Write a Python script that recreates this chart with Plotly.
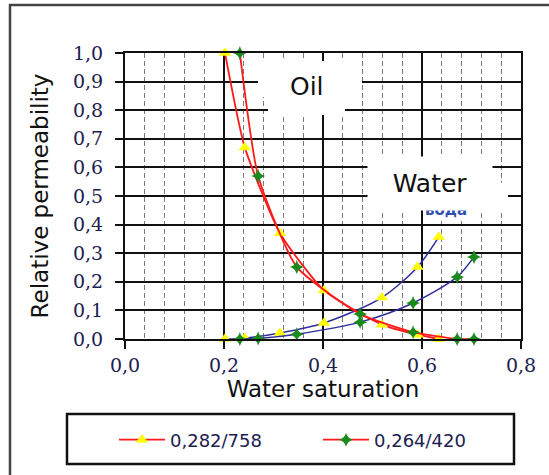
import plotly.graph_objects as go

# Water saturation of the measured points for the two samples
sw_a = [0.202, 0.242, 0.313, 0.402, 0.519, 0.591, 0.634]
sw_b = [0.232, 0.269, 0.347, 0.475, 0.582, 0.671, 0.705]

# Relative permeability to oil
kro_a = [1.0, 0.67, 0.37, 0.17, 0.05, 0.015, 0.0]
kro_b = [1.0, 0.57, 0.252, 0.087, 0.024, 0.0, 0.0]

# Relative permeability to water
krw_a = [0.0, 0.003, 0.021, 0.056, 0.145, 0.252, 0.357]
krw_b = [0.0, 0.002, 0.017, 0.059, 0.126, 0.217, 0.287]

names = ["0,282/758", "0,264/420"]
x_ticks = [0.0, 0.2, 0.4, 0.6, 0.8]
y_ticks = [round(0.1 * i, 1) for i in range(11)]

W, H = 549, 475
L, R, T, B = 125, 28, 53, 136
PW, PH = W - L - R, H - T - B


def px(x):
    return (x - L) / PW


def py(y):
    return (H - B - y) / PH


RED = "#ff1a1a"
BLUE = "#2e2e9c"
YEL = "#ffff00"
GRN = "#1a8a1a"
TXT = "#1c2050"

fig = go.Figure()

series = [
    (sw_a, kro_a, krw_a, names[0], dict(symbol="triangle-up", size=11, color=YEL)),
    (sw_b, kro_b, krw_b, names[1], dict(symbol="star-diamond", size=10, color=GRN)),
]

for sw, kro, krw, name, mk in series:
    fig.add_trace(go.Scatter(
        x=sw, y=krw, mode="lines+markers", showlegend=False,
        line=dict(color=BLUE, width=1.5, shape="spline", smoothing=0.8),
        marker=mk, cliponaxis=False,
    ))
for sw, kro, krw, name, mk in series:
    fig.add_trace(go.Scatter(
        x=sw, y=kro, mode="lines+markers", name=name,
        line=dict(color=RED, width=1.8, shape="spline", smoothing=0.55),
        marker=mk, cliponaxis=False,
    ))

shapes = [
    # outer frame
    dict(type="rect", xref="paper", yref="paper", x0=px(10), x1=px(600),
         y0=py(5), y1=py(520), line=dict(color="#444444", width=2.5),
         fillcolor="rgba(0,0,0,0)", layer="below"),
    # legend frame
    dict(type="rect", xref="paper", yref="paper", x0=px(67), x1=px(514),
         y0=py(414), y1=py(464), line=dict(color="#111111", width=2.5),
         fillcolor="white"),
    # label backgrounds inside the plot
    dict(type="rect", xref="paper", yref="paper", x0=px(258), x1=px(362),
         y0=py(61), y1=py(97), line=dict(width=0), fillcolor="white", layer="above"),
    dict(type="rect", xref="paper", yref="paper", x0=px(268), x1=px(345),
         y0=py(96), y1=py(115), line=dict(width=0), fillcolor="white", layer="above"),
    dict(type="rect", xref="paper", yref="paper", x0=px(490), x1=px(508),
         y0=py(183), y1=py(210), line=dict(width=0), fillcolor="white", layer="above"),
]

annotations = [
    dict(text="<b>вода</b>", xref="paper", yref="paper", x=px(446), y=py(210),
         xanchor="center", yanchor="middle",
         showarrow=False, font=dict(family="DejaVu Sans", size=15, color="#3050b0"),
         bgcolor="white", borderpad=0),
    dict(text="Water", xref="paper", yref="paper", x=px(430), y=py(183.5),
         xanchor="center", yanchor="middle",
         showarrow=False, width=124, height=53, bgcolor="white", borderpad=0,
         font=dict(family="DejaVu Sans", size=25, color="#111111")),
    dict(text="Oil", xref="paper", yref="paper", x=px(307), y=py(86),
         xanchor="center", yanchor="middle",
         showarrow=False, font=dict(family="DejaVu Sans", size=25, color="#111111")),
]

fig.update_layout(
    width=W, height=H,
    margin=dict(l=L, r=R, t=T, b=B, pad=0),
    paper_bgcolor="white", plot_bgcolor="white",
    separators=", ",
    shapes=shapes, annotations=annotations,
    showlegend=True,
    legend=dict(
        orientation="h", xref="paper", yref="paper",
        x=px(114), y=py(440), xanchor="left", yanchor="middle",
        bgcolor="rgba(0,0,0,0)", borderwidth=0,
        font=dict(family="DejaVu Sans", size=18, color=TXT),
        itemwidth=46,
        entrywidth=143, entrywidthmode="pixels",
    ),
    xaxis=dict(
        range=[0, 0.8], tickvals=x_ticks, tickformat=".1f",
        showgrid=True, gridcolor="#111111", gridwidth=2,
        minor=dict(dtick=0.04, tick0=0, showgrid=True, gridcolor="#7a7a7a",
                   griddash="5px,3px", gridwidth=1),
        showline=True, linecolor="#111111", linewidth=2, mirror=True,
        ticks="outside", ticklen=8, tickwidth=2, tickcolor="#111111",
        zeroline=False,
        tickfont=dict(family="DejaVu Serif", size=19, color=TXT),
        title=dict(text="Water saturation", standoff=4,
                   font=dict(family="DejaVu Sans", size=23, color="#111111")),
    ),
    yaxis=dict(
        range=[0, 1.0], tickvals=y_ticks, tickformat=".1f",
        showgrid=True, gridcolor="#111111", gridwidth=2,
        showline=True, linecolor="#111111", linewidth=2, mirror=True,
        ticks="outside", ticklen=8, tickwidth=2, tickcolor="#111111",
        zeroline=False, ticklabelstandoff=8,
        tickfont=dict(family="DejaVu Serif", size=19, color=TXT),
        title=dict(text="Relative permeability", standoff=18,
                   font=dict(family="DejaVu Sans", size=23, color="#111111")),
    ),
)

fig.write_html("out.html")
